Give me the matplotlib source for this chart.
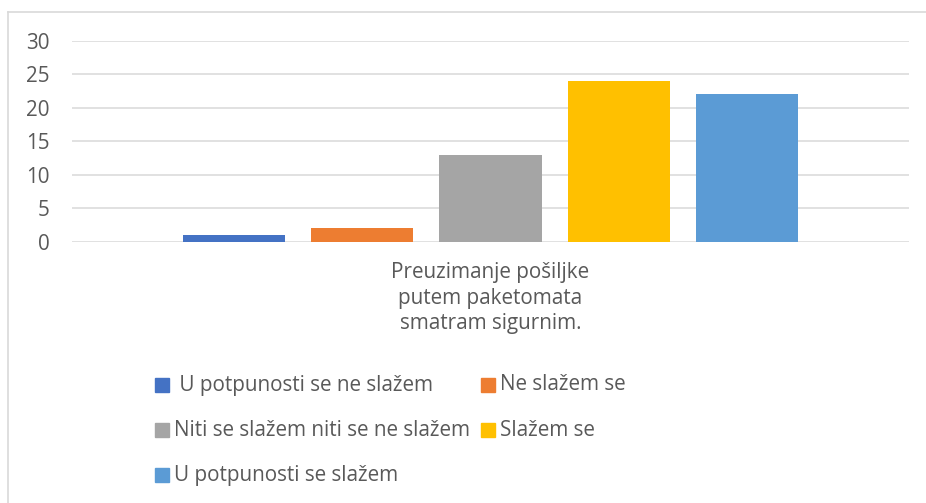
import matplotlib
matplotlib.use('Agg')
import matplotlib.pyplot as plt
from matplotlib.patches import Rectangle
from matplotlib.lines import Line2D

# data
category = "Preuzimanje pošiljke\nputem paketomata\nsmatram sigurnim."
series = [" U potpunosti se ne slažem", "Ne slažem se",
          "Niti se slažem niti se ne slažem", "Slažem se",
          "U potpunosti se slažem"]
values = [1, 2, 13, 24, 22]
colors = ['#4472C4', '#ED7D31', '#A5A5A5', '#FFC000', '#5B9BD5']
yticks = [0, 5, 10, 15, 20, 25, 30]

W, H = 926, 503
txt_color = '#595959'
plt.rcParams['font.family'] = ['Open Sans', 'DejaVu Sans']
fs = 14.9

fig = plt.figure(figsize=(W / 100, H / 100), dpi=100)

def fx(px):
    return px / W

def fy(py):
    return 1 - py / H

ax = fig.add_axes([fx(72), fy(241.5), fx(909) - fx(72), (241.5 - 41) / H])

offsets = [-2, -1, 0, 1, 2]
for off, v, c in zip(offsets, values, colors):
    ax.bar(off, v, width=0.794, color=c, zorder=3)

ax.set_xlim(-3.257, 3.257)
ax.set_ylim(0, 30)
ax.set_yticks(yticks)
ax.set_yticklabels([str(t) for t in yticks], fontsize=fs, color=txt_color)
ax.tick_params(axis='y', length=0, pad=16)
ax.set_xticks([0])
ax.set_xticklabels([category], fontsize=fs, color=txt_color, linespacing=1.28)
ax.tick_params(axis='x', length=0, pad=15)
ax.grid(axis='y', color='#d9d9d9', linewidth=1.1, zorder=0)
for s in ax.spines.values():
    s.set_visible(False)

# legend rows (Excel style, 2 columns, filled row-wise)
leg_pos = [(155, 385), (481, 385), (155, 430), (481, 430), (155, 475)]
for (x, y), lab, c in zip(leg_pos, series, colors):
    fig.patches.append(Rectangle((fx(x), fy(y + 7)), 14 / W, 14 / H,
                                 transform=fig.transFigure, color=c))
    fig.text(fx(x + 19), fy(y), lab, fontsize=fs, color=txt_color,
             va='center', ha='left')

# chart border
fig.add_artist(Line2D([fx(7.5), fx(7.5)], [0, fy(11.5)], color='#d9d9d9', lw=1.2))
fig.add_artist(Line2D([fx(7.5), 1], [fy(11.5), fy(11.5)], color='#d9d9d9', lw=1.2))

plt.savefig('out.png', dpi=100)
